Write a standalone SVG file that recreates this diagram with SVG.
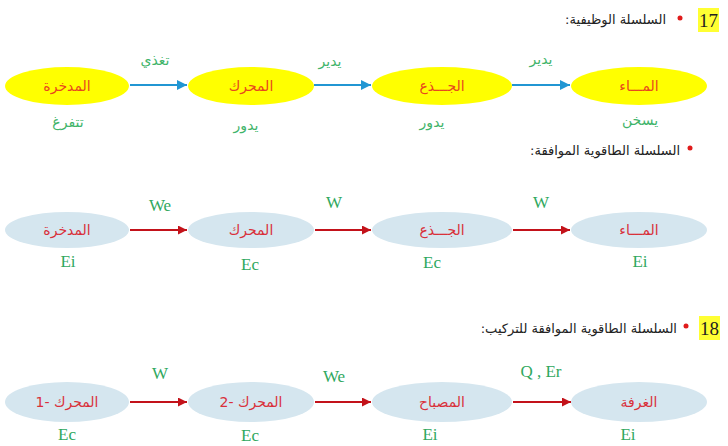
<svg xmlns="http://www.w3.org/2000/svg" width="728" height="446" viewBox="0 0 728 446">
<defs>
<style>
.nodeY{fill:#ffff00;}
.nodeB{fill:#d5e6ef;}
.lbl1{font-family:"DejaVu Sans",sans-serif;font-size:14px;fill:#e8471e;text-anchor:middle;}
.lbl2{font-family:"DejaVu Sans",sans-serif;font-size:14px;fill:#d9303a;text-anchor:middle;}
.g1{font-family:"DejaVu Sans",sans-serif;font-size:14px;fill:#3fb46a;text-anchor:middle;}
.gl{font-family:"Liberation Serif",serif;font-size:17px;fill:#2fa85e;text-anchor:middle;}
.title{font-family:"DejaVu Sans",sans-serif;font-size:13px;fill:#222;}
.num{font-family:"Liberation Serif",serif;font-size:19px;fill:#222;text-anchor:middle;}
.blue{stroke:#2196d3;stroke-width:2;fill:none;}
.red{stroke:#c3121a;stroke-width:2;fill:none;}
</style>
<marker id="mb" viewBox="0 0 10 10" refX="10" refY="5" markerWidth="5" markerHeight="5" orient="auto" markerUnits="strokeWidth">
<path d="M0,0 L10,5 L0,10 z" fill="#2196d3"/>
</marker>
<marker id="mr" viewBox="0 0 10 10" refX="10" refY="5" markerWidth="4.5" markerHeight="4.5" orient="auto" markerUnits="strokeWidth">
<path d="M0,0 L10,5 L0,10 z" fill="#c3121a"/>
</marker>
</defs>
<rect width="728" height="446" fill="#ffffff"/>

<!-- Titles -->
<g id="title17">
<rect x="698" y="8" width="21" height="24" fill="#ffff33"/>
<text class="num" x="708.5" y="27">17</text>
<circle cx="680" cy="18" r="2.5" fill="#e01b1b"/>
<text class="title" x="666" y="24" direction="rtl" text-anchor="start">السلسلة الوظيفية:</text>
</g>
<g id="title-energy">
<circle cx="690" cy="148" r="2.5" fill="#e01b1b"/>
<text class="title" x="680" y="155" direction="rtl" text-anchor="start">السلسلة الطاقوية الموافقة:</text>
</g>
<g id="title18">
<rect x="699" y="316" width="21" height="24" fill="#ffff33"/>
<text class="num" x="709.5" y="335">18</text>
<circle cx="686" cy="326" r="2.5" fill="#e01b1b"/>
<text class="title" x="677" y="333" direction="rtl" text-anchor="start">السلسلة الطاقوية الموافقة للتركيب:</text>
</g>

<!-- Connectors -->
<g id="connectors">
<line class="blue" x1="130" y1="85" x2="187" y2="85" marker-end="url(#mb)"/>
<line class="blue" x1="314" y1="85" x2="371" y2="85" marker-end="url(#mb)"/>
<line class="blue" x1="512" y1="85" x2="570" y2="85" marker-end="url(#mb)"/>
<line class="red" x1="130" y1="230" x2="187" y2="230" marker-end="url(#mr)"/>
<line class="red" x1="315" y1="230" x2="371" y2="230" marker-end="url(#mr)"/>
<line class="red" x1="513" y1="230" x2="570" y2="230" marker-end="url(#mr)"/>
<line class="red" x1="130" y1="402" x2="187" y2="402" marker-end="url(#mr)"/>
<line class="red" x1="315" y1="402" x2="371" y2="402" marker-end="url(#mr)"/>
<line class="red" x1="513" y1="402" x2="571" y2="402" marker-end="url(#mr)"/>
<text class="g1" x="155" y="65">تغذي</text>
<text class="g1" x="330" y="66">يدير</text>
<text class="g1" x="541" y="64">يدير</text>
<text class="gl" x="160" y="211">We</text>
<text class="gl" x="334" y="208">W</text>
<text class="gl" x="541" y="208">W</text>
<text class="gl" x="160" y="379">W</text>
<text class="gl" x="334" y="382">We</text>
<text class="gl" x="541" y="377">Q , Er</text>
</g>

<!-- Row 1: functional chain -->
<g id="r1n1">
<ellipse class="nodeY" cx="67" cy="86" rx="62" ry="19"/>
<text class="lbl1" x="67" y="91">المدخرة</text>
<text class="g1" x="68" y="127">تتفرغ</text>
</g>
<g id="r1n2">
<ellipse class="nodeY" cx="251" cy="86" rx="63" ry="19"/>
<text class="lbl1" x="251" y="91">المحرك</text>
<text class="g1" x="246" y="130">يدور</text>
</g>
<g id="r1n3">
<ellipse class="nodeY" cx="442" cy="86" rx="70" ry="19"/>
<text class="lbl1" x="442" y="91">الجـــذع</text>
<text class="g1" x="432" y="127">يدور</text>
</g>
<g id="r1n4">
<ellipse class="nodeY" cx="639" cy="86" rx="68" ry="19"/>
<text class="lbl1" x="639" y="91">المـــاء</text>
<text class="g1" x="640" y="125">يسخن</text>
</g>

<!-- Row 2: energy chain -->
<g id="r2n1">
<ellipse class="nodeB" cx="67" cy="230" rx="62" ry="18"/>
<text class="lbl2" x="67" y="235">المدخرة</text>
<text class="gl" x="68" y="267">Ei</text>
</g>
<g id="r2n2">
<ellipse class="nodeB" cx="251" cy="230" rx="63" ry="18"/>
<text class="lbl2" x="251" y="235">المحرك</text>
<text class="gl" x="250" y="270">Ec</text>
</g>
<g id="r2n3">
<ellipse class="nodeB" cx="442" cy="230" rx="70" ry="18"/>
<text class="lbl2" x="442" y="235">الجـــذع</text>
<text class="gl" x="432" y="268">Ec</text>
</g>
<g id="r2n4">
<ellipse class="nodeB" cx="639" cy="230" rx="68" ry="18"/>
<text class="lbl2" x="639" y="235">المـــاء</text>
<text class="gl" x="640" y="267">Ei</text>
</g>

<!-- Row 3: energy chain of the setup -->
<g id="r3n1">
<ellipse class="nodeB" cx="67" cy="402" rx="62" ry="20"/>
<text class="lbl2" x="67" y="407" direction="ltr">1- المحرك</text>
<text class="gl" x="67" y="440">Ec</text>
</g>
<g id="r3n2">
<ellipse class="nodeB" cx="251" cy="402" rx="63" ry="20"/>
<text class="lbl2" x="251" y="407" direction="ltr">2- المحرك</text>
<text class="gl" x="250" y="441">Ec</text>
</g>
<g id="r3n3">
<ellipse class="nodeB" cx="442" cy="402" rx="70" ry="20"/>
<text class="lbl2" x="442" y="407">المصباح</text>
<text class="gl" x="430" y="440">Ei</text>
</g>
<g id="r3n4">
<ellipse class="nodeB" cx="639" cy="402" rx="68" ry="20"/>
<text class="lbl2" x="639" y="407">الغرفة</text>
<text class="gl" x="628" y="440">Ei</text>
</g>
</svg>
